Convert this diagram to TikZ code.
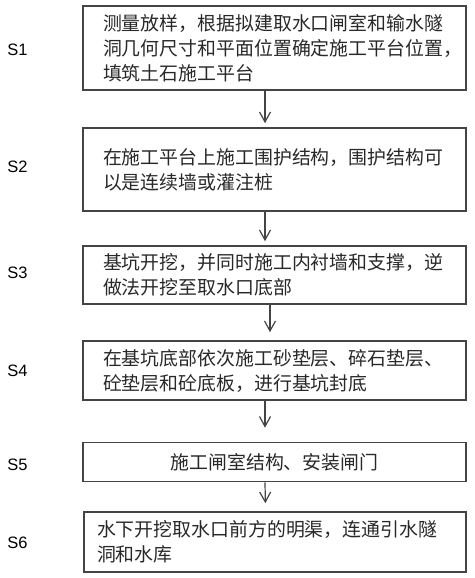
\documentclass[tikz,border=0pt]{standalone}
\usepackage{fontspec}
\setmainfont{Liberation Sans}
\newfontfamily\cjkfont{Noto Sans CJK SC}
\usetikzlibrary{arrows.meta}
\definecolor{boxline}{RGB}{68,68,68}
\definecolor{inktext}{RGB}{40,40,40}

\begin{document}
\begin{tikzpicture}[x=1pt, y=-1pt,
    stepbox/.style={draw=boxline, line width=1.6pt, minimum width=383pt,
        inner xsep=20pt, inner ysep=0pt, text width=343pt, align=left,
        font=\cjkfont\fontsize{18.9}{25}\selectfont, text=inktext},
    steplabel/.style={font=\fontsize{16.5}{18}\selectfont},
    every edge/.append style={draw=boxline, line width=1.2pt,
        -{Straight Barb[length=10pt,width=11pt]}}]
    \useasboundingbox (0,0) rectangle (474,578);

    \node[stepbox, minimum height=84pt] (s1_box) at (274.5,48)
        {测量放样，根据拟建取水口闸室和输水隧\\洞几何尺寸和平面位置确定施工平台位置，\\填筑土石施工平台};
    \node[stepbox, minimum height=83pt] (s2_box) at (274.5,169.5)
        {在施工平台上施工围护结构，围护结构可\\以是连续墙或灌注桩};
    \node[stepbox, minimum height=58pt] (s3_box) at (274.5,275)
        {基坑开挖，并同时施工内衬墙和支撑，逆\\做法开挖至取水口底部};
    \node[stepbox, minimum height=59pt] (s4_box) at (274.5,370.5)
        {在基坑底部依次施工砂垫层、碎石垫层、\\砼垫层和砼底板，进行基坑封底};
    \node[stepbox, minimum height=39pt, align=center] (s5_box) at (274.5,462)
        {施工闸室结构、安装闸门};
    \node[stepbox, minimum height=60pt, minimum width=382pt, inner xsep=13pt,
        text width=356pt] (s6_box) at (275,542)
        {水下开挖取水口前方的明渠，连通引水隧\\洞和水库};

    \node[steplabel] (s1_name) at (17.5,50) {S1};
    \node[steplabel] (s2_name) at (17.5,167) {S2};
    \node[steplabel] (s3_name) at (17.5,273) {S3};
    \node[steplabel] (s4_name) at (17.5,371) {S4};
    \node[steplabel] (s5_name) at (17.5,465) {S5};
    \node[steplabel] (s6_name) at (17.5,543) {S6};

    \path
        ([xshift=-9.5pt]s1_box.south) edge[shorten >=4pt] ([xshift=-9.5pt]s2_box.north)
        ([xshift=-9.5pt]s2_box.south) edge[shorten >=4pt] ([xshift=-9.5pt]s3_box.north)
        ([xshift=-4.5pt]s3_box.south) edge[shorten >=8pt] ([xshift=-4.5pt]s4_box.north)
        ([xshift=-9.5pt]s4_box.south) edge[shorten >=14pt] ([xshift=-9.5pt]s5_box.north)
        ([xshift=-9.5pt]s5_box.south) edge[shorten >=8pt] ([xshift=-9.5pt]s6_box.north);
\end{tikzpicture}
\end{document}
